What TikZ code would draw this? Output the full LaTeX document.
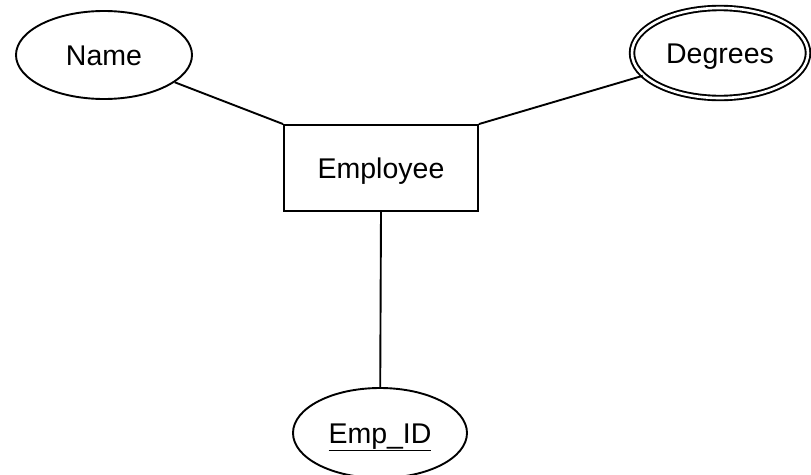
\documentclass[tikz,border=0pt]{standalone}
\usepackage{fontspec}
\setmainfont{Liberation Sans}
\usetikzlibrary{shapes.geometric}
\begin{document}
\begin{tikzpicture}[x=1pt,y=-1pt,
  every node/.style={font=\fontsize{28.5}{34}\selectfont, line width=1.9pt,
    text height=20.4pt, text depth=0pt},
  attr/.style={ellipse, draw, inner sep=0pt, minimum width=176pt, minimum height=88pt},
  multiattr/.style={attr, double, double distance=2.6pt, minimum width=176pt, minimum height=90pt},
  entity/.style={rectangle, draw, inner sep=0pt, minimum width=194pt, minimum height=86pt},
  link/.style={line width=1.9pt}]
  \useasboundingbox (0,0) rectangle (811,474);
  \node[entity] (emp) at (381,168) {Employee};
  \node[attr] (name) at (104,55) {Name};
  \node[multiattr] (deg) at (720,53) {Degrees};
  \node[attr, minimum width=174pt, minimum height=90pt] (id) at (380,433) {\underline{Emp\_ID}};
  \draw[link] (name) -- (emp.north west);
  \draw[link] (deg) -- (emp.north east);
  \draw[link] (emp.south) -- (id);
\end{tikzpicture}
\end{document}
